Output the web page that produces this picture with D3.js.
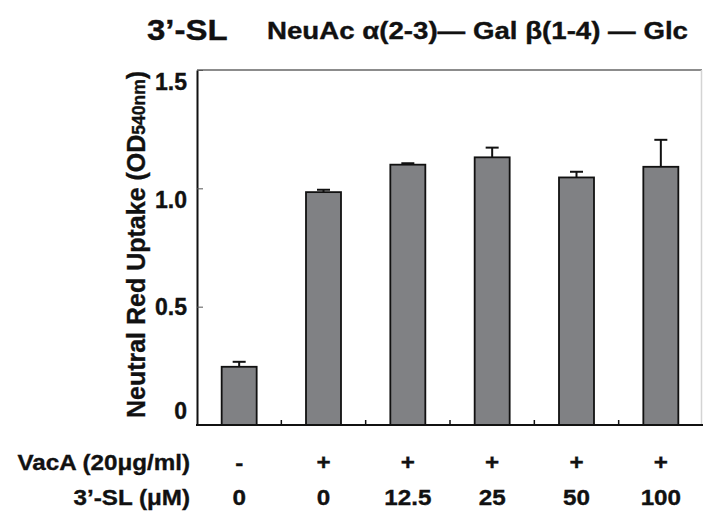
<!DOCTYPE html>
<html>
<head>
<meta charset="utf-8">
<script src="https://cdn.jsdelivr.net/npm/d3@7"></script>
<style>
  html, body { margin: 0; padding: 0; background: #fff; }
  svg { display: block; }
  text { font-family: "Liberation Sans", Arial, sans-serif; font-weight: bold; fill: #111; stroke: #111; stroke-width: 0.35px; }
</style>
</head>
<body>
<script>
// values
const vacA = ['-', '+', '+', '+', '+', '+'];
const slConc = ['0', '0', '12.5', '25', '50', '100'];
const uptake = [0.246, 0.984, 1.100, 1.131, 1.046, 1.091];
const sem = [0.021, 0.010, 0.006, 0.041, 0.024, 0.114];
const yTicks = [0, 0.5, 1.0, 1.5];
const rowLabels = ['VacA (20\u03BCg/ml)', '3\u2019-SL (\u03BCM)'];

const width = 703;
const height = 516;
const margin = { top: 70, right: 0, bottom: 91, left: 197 };
const hs = 1.1; // the original type is a bit wider than Arial

const svg = d3.select('body')
  .append('svg')
  .attr('width', width)
  .attr('height', height);

const x = d3.scaleBand()
  .domain(d3.range(uptake.length))
  .range([margin.left, width - margin.right])
  .paddingInner(0.585)
  .paddingOuter(0.2925);

const y = d3.scaleLinear()
  .domain([0, 1.5])
  .range([height - margin.bottom, margin.top]);

// frame: grey top and right edges
svg.append('line')
  .attr('x1', margin.left).attr('x2', width - 1)
  .attr('y1', y(1.5)).attr('y2', y(1.5))
  .attr('stroke', '#8c8c8c').attr('stroke-width', 2);
svg.append('line')
  .attr('x1', width - 1.5).attr('x2', width - 1.5)
  .attr('y1', y(1.5)).attr('y2', y(0))
  .attr('stroke', '#d4d4d4').attr('stroke-width', 1.5);

// bars
const cx = i => x(i) + x.bandwidth() / 2;

svg.append('g')
  .selectAll('rect')
  .data(uptake)
  .join('rect')
    .attr('x', (d, i) => x(i))
    .attr('y', d => y(d))
    .attr('width', x.bandwidth())
    .attr('height', d => y(0) - y(d))
    .attr('fill', '#808184')
    .attr('stroke', '#111')
    .attr('stroke-width', 1.8);

// upper error bars
const err = svg.append('g')
  .attr('stroke', '#111')
  .attr('stroke-width', 2)
  .selectAll('g')
  .data(uptake.map((v, i) => ({ v, e: sem[i], i })))
  .join('g');

err.append('line')
  .attr('x1', d => cx(d.i)).attr('x2', d => cx(d.i))
  .attr('y1', d => y(d.v)).attr('y2', d => y(d.v + d.e));
err.append('line')
  .attr('x1', d => cx(d.i) - 6.5).attr('x2', d => cx(d.i) + 6.5)
  .attr('y1', d => y(d.v + d.e)).attr('y2', d => y(d.v + d.e));

// y axis, ticks pointing inwards
const yAxis = svg.append('g')
  .attr('transform', `translate(${margin.left},0)`)
  .call(d3.axisLeft(y)
    .tickValues(yTicks)
    .tickSizeInner(-6)
    .tickSizeOuter(0)
    .tickPadding(10)
    .tickFormat(d => d === 0 ? '0' : d3.format('.1f')(d)));

yAxis.select('.domain').attr('stroke', '#111').attr('stroke-width', 2);
yAxis.selectAll('.tick line').attr('stroke', '#555').attr('stroke-width', 1);
// labels in the original sit a little off their ticks
const nudge = { 0: -15, 0.5: 0, 1: 11, 1.5: 11 };
yAxis.selectAll('.tick text')
  .attr('transform', d => `translate(0,${nudge[d]})`)
  .attr('dy', '0.35em')
  .style('font-size', '23px')
  .style('font-family', '"Liberation Sans", Arial, sans-serif')
  .style('font-weight', 'bold')
  .attr('fill', '#111');

// x axis with small inward ticks between the groups
svg.append('line')
  .attr('x1', margin.left - 1).attr('x2', width)
  .attr('y1', y(0)).attr('y2', y(0))
  .attr('stroke', '#111').attr('stroke-width', 2.2);

svg.append('g')
  .selectAll('line')
  .data(d3.range(1, uptake.length))
  .join('line')
    .attr('x1', i => x(i) - x.step() * x.paddingOuter())
    .attr('x2', i => x(i) - x.step() * x.paddingOuter())
    .attr('y1', y(0)).attr('y2', y(0) - 5)
    .attr('stroke', '#111').attr('stroke-width', 1.5);

// y label
svg.append('text')
  .attr('transform', `translate(145,${(y(0) + y(1.5)) / 2 - 3}) rotate(-90)`)
  .attr('text-anchor', 'middle')
  .style('font-size', '25px')
  .call(t => {
    t.append('tspan').text('Neutral Red Uptake (OD');
    t.append('tspan').style('font-size', '17.5px').text('540nm');
    t.append('tspan').text(')');
  });

// title
svg.append('text')
  .attr('transform', `translate(147,40) scale(${hs},1)`)
  .style('font-size', '30px')
  .text('3\u2019-SL');

svg.append('text')
  .attr('x', 267).attr('y', 38.5)
  .attr('textLength', 421)
  .attr('lengthAdjust', 'spacingAndGlyphs')
  .style('font-size', '23px')
  .text('NeuAc \u03B1(2-3)\u2014 Gal \u03B2(1-4) \u2014 Glc');

// condition rows under the axis
const rows = [vacA, slConc];
const rowY = [470, 505];

rows.forEach((row, r) => {
  svg.append('text')
    .attr('transform', `translate(190,${rowY[r]}) scale(${hs},1)`)
    .attr('text-anchor', 'end')
    .style('font-size', '22px')
    .text(rowLabels[r]);

  svg.append('g')
    .selectAll('text')
    .data(row)
    .join('text')
      .attr('transform', (d, i) => `translate(${cx(i)},${rowY[r]}) scale(${hs},1)`)
      .attr('text-anchor', 'middle')
      .style('font-size', '22px')
      .text(d => d);
});
</script>
</body>
</html>
